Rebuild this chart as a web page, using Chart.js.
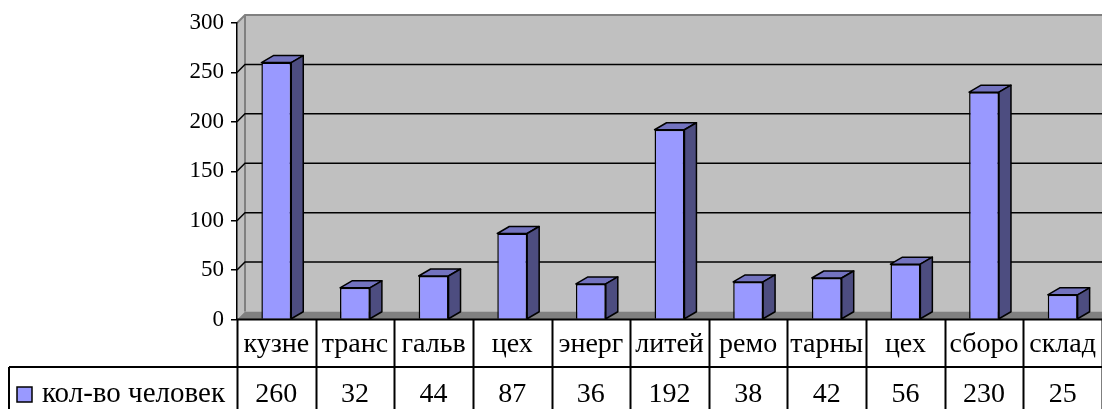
<!DOCTYPE html>
<html>
<head>
<meta charset="utf-8">
<script src="https://cdn.jsdelivr.net/npm/chart.js@4.4.1/dist/chart.umd.min.js"></script>
<style>
  html, body { margin: 0; padding: 0; background: #fff; }
  #wrap { width: 1102px; height: 409px; position: relative; }
</style>
</head>
<body>
<div id="wrap"><canvas id="myChart"></canvas></div>
<script>
const categories = ['кузне', 'транс', 'гальв', 'цех', 'энерг', 'литей', 'ремо', 'тарны', 'цех', 'сборо', 'склад'];
const headcount = [260, 32, 44, 87, 36, 192, 38, 42, 56, 230, 25];
const seriesName = 'кол-во человек';
const yMin = 0, yMax = 300, yStep = 50;

const FONT = 'Liberation Serif';
const WALL = '#c0c0c0', FLOOR = '#808080';
const FRONT = '#9999ff', TOP = '#7373bf', SIDE = '#4d4d80';

// walls, floor and gridlines of the 3d box
const walls = {
    id: 'walls',
    beforeDraw(chart) {
        const ctx = chart.ctx, a = chart.chartArea, ys = chart.scales.y;
        const d = 8;
        ctx.save();
        // back wall
        ctx.fillStyle = WALL;
        ctx.fillRect(a.left + d, a.top - d, a.right - a.left - d, a.bottom - a.top);
        // side wall
        ctx.beginPath();
        ctx.moveTo(a.left, a.top);
        ctx.lineTo(a.left + d, a.top - d);
        ctx.lineTo(a.left + d, a.bottom - d);
        ctx.lineTo(a.left, a.bottom);
        ctx.closePath();
        ctx.fill();
        // floor
        ctx.fillStyle = FLOOR;
        ctx.beginPath();
        ctx.moveTo(a.left, a.bottom);
        ctx.lineTo(a.left + d, a.bottom - d);
        ctx.lineTo(a.right, a.bottom - d);
        ctx.lineTo(a.right, a.bottom);
        ctx.closePath();
        ctx.fill();
        // edges
        ctx.strokeStyle = '#808080';
        ctx.lineWidth = 2;
        ctx.beginPath();
        ctx.moveTo(a.left, a.top);
        ctx.lineTo(a.left + d, a.top - d);
        ctx.lineTo(a.right, a.top - d);
        ctx.moveTo(a.left + d, a.top - d);
        ctx.lineTo(a.left + d, a.bottom - d);
        ctx.stroke();
        // gridlines
        ctx.strokeStyle = '#000';
        ctx.lineWidth = 1.5;
        for (let v = yMin + yStep; v < yMax; v += yStep) {
            const y = ys.getPixelForValue(v);
            ctx.beginPath();
            ctx.moveTo(a.left, y);
            ctx.lineTo(a.left + d, y - d);
            ctx.lineTo(a.right, y - d);
            ctx.stroke();
        }
        ctx.restore();
    }
};

// top and side faces of the bars
const bars3d = {
    id: 'bars3d',
    afterDatasetsDraw(chart) {
        const ctx = chart.ctx;
        const dx = 12, dy = 7;
        ctx.save();
        ctx.strokeStyle = '#000';
        ctx.lineWidth = 1.5;
        ctx.lineJoin = 'round';
        chart.getDatasetMeta(0).data.forEach(bar => {
            const p = bar.getProps(['x', 'y', 'base', 'width'], true);
            const l = p.x - p.width / 2, r = p.x + p.width / 2;
            ctx.fillStyle = TOP;
            ctx.beginPath();
            ctx.moveTo(l, p.y);
            ctx.lineTo(l + dx, p.y - dy);
            ctx.lineTo(r + dx, p.y - dy);
            ctx.lineTo(r, p.y);
            ctx.closePath();
            ctx.fill();
            ctx.stroke();
            ctx.fillStyle = SIDE;
            ctx.beginPath();
            ctx.moveTo(r, p.y);
            ctx.lineTo(r + dx, p.y - dy);
            ctx.lineTo(r + dx, p.base - dy);
            ctx.lineTo(r, p.base);
            ctx.closePath();
            ctx.fill();
            ctx.stroke();
        });
        ctx.restore();
    }
};

// data table under the plot
const dataTable = {
    id: 'dataTable',
    afterDraw(chart) {
        const ctx = chart.ctx, a = chart.chartArea, xs = chart.scales.x;
        const H = chart.height;
        const step = (a.right - a.left) / categories.length;
        const rowY = 367;
        ctx.save();
        ctx.strokeStyle = '#000';
        ctx.lineWidth = 2;
        ctx.beginPath();
        ctx.moveTo(a.left, a.bottom);
        ctx.lineTo(a.right, a.bottom);
        ctx.moveTo(9, rowY);
        ctx.lineTo(a.right, rowY);
        ctx.moveTo(9, rowY);
        ctx.lineTo(9, H);
        for (let i = 0; i <= categories.length; i++) {
            const x = Math.round(a.left + i * step) + 0.5;
            ctx.moveTo(x, a.bottom);
            ctx.lineTo(x, H);
        }
        ctx.stroke();

        ctx.fillStyle = '#000';
        ctx.font = '28px "' + FONT + '"';
        ctx.textAlign = 'center';
        ctx.textBaseline = 'alphabetic';
        categories.forEach((c, i) => {
            const x = xs.getPixelForValue(i);
            ctx.fillText(c, x, 352);
            ctx.fillText(String(headcount[i]), x, 402);
        });

        // legend key
        ctx.fillStyle = FRONT;
        ctx.fillRect(17, 387, 15, 15);
        ctx.lineWidth = 1.5;
        ctx.strokeRect(17, 387, 15, 15);
        ctx.fillStyle = '#000';
        ctx.textAlign = 'left';
        ctx.font = '29px "' + FONT + '"';
        ctx.fillText(seriesName, 42, 402);
        ctx.restore();
    }
};

const data = {
    labels: categories,
    datasets: [{
        label: seriesName,
        data: headcount,
        backgroundColor: FRONT,
        borderColor: '#000',
        borderWidth: 1.5,
        categoryPercentage: 1,
        barPercentage: 0.38
    }]
};

const config = {
    type: 'bar',
    data: data,
    options: {
        responsive: true,
        maintainAspectRatio: false,
        animation: false,
        layout: { padding: { top: 23, right: 0, bottom: 89.5, left: 0 } },
        plugins: {
            legend: { display: false },
            tooltip: { enabled: false }
        },
        scales: {
            x: { display: false },
            y: {
                min: yMin,
                max: yMax,
                ticks: {
                    stepSize: yStep,
                    color: '#000',
                    padding: 7,
                    font: { family: FONT, size: 23 }
                },
                grid: { drawOnChartArea: false, color: '#000', tickLength: 6, lineWidth: 1.5 },
                border: { color: '#000', width: 1.5 },
                afterFit(scale) { scale.width = 237; }
            }
        }
    },
    plugins: [walls, bars3d, dataTable]
};

const myChart = new Chart(document.getElementById('myChart'), config);
</script>
</body>
</html>
